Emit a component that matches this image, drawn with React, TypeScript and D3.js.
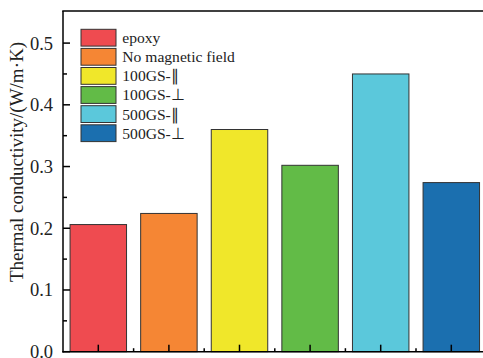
import React from 'react'
import * as d3 from 'd3'

const width = 483
const height = 358

const categories = ['epoxy', 'No magnetic field', '100GS-∥', '100GS-⊥', '500GS-∥', '500GS-⊥']
const values = [0.206, 0.224, 0.36, 0.302, 0.45, 0.274]
const colors = ['#EF4B50', '#F58634', '#F0E72A', '#62BB47', '#5BC8DB', '#1B6FAF']
const yTicks = [0.0, 0.1, 0.2, 0.3, 0.4, 0.5]

const margin = { left: 63, top: 11, bottom: 6.3 }
const plotRight = 486.6
const plotBottom = height - margin.bottom

const font = '"Liberation Serif", "Times New Roman", serif'

export default function App() {
  const x = d3
    .scaleBand<string>()
    .domain(categories)
    .range([margin.left, plotRight])
    .paddingInner(0.2)
    .paddingOuter(0.1)
  const y = d3.scaleLinear().domain([0, 0.552]).range([plotBottom, margin.top])

  const minorY = d3.range(0.05, 0.55, 0.1)
  const boundaries = categories.slice(1).map((c) => (x(c) as number) - (x.step() * x.paddingInner()) / 2)

  const legendX = 81
  const legendY = 29.3
  const legendStep = 19.1

  return (
    <svg width={width} height={height} style={{ position: 'absolute', left: 0, top: 0, background: '#fff' }}>
      {categories.map((c, i) => (
        <rect
          key={c}
          x={x(c)}
          y={y(values[i])}
          width={x.bandwidth()}
          height={plotBottom - y(values[i])}
          fill={colors[i]}
          stroke="#333"
          strokeWidth={1}
        />
      ))}

      {/* y ticks */}
      {yTicks.map((t) => (
        <g key={t}>
          <line x1={margin.left} x2={margin.left + 7} y1={y(t)} y2={y(t)} stroke="#000" strokeWidth={1.5} />
          <text
            x={53}
            y={y(t)}
            dy="0.35em"
            textAnchor="end"
            fontFamily={font}
            fontSize={18.5}
            fill="#222"
          >
            {t.toFixed(1)}
          </text>
        </g>
      ))}
      {minorY.map((t) => (
        <line key={t} x1={margin.left} x2={margin.left + 4} y1={y(t)} y2={y(t)} stroke="#000" strokeWidth={1.5} />
      ))}

      {/* x ticks */}
      {categories.map((c) => {
        const cx = (x(c) as number) + x.bandwidth() / 2
        return <line key={c} x1={cx} x2={cx} y1={plotBottom} y2={plotBottom - 7} stroke="#000" strokeWidth={1.5} />
      })}
      {boundaries.map((b, i) => (
        <line key={i} x1={b} x2={b} y1={plotBottom} y2={plotBottom - 3.5} stroke="#000" strokeWidth={1.5} />
      ))}

      {/* frame */}
      <line x1={margin.left} x2={margin.left} y1={margin.top} y2={plotBottom + 0.75} stroke="#000" strokeWidth={1.5} />
      <line x1={margin.left - 0.75} x2={width} y1={plotBottom} y2={plotBottom} stroke="#000" strokeWidth={1.5} />
      <line x1={margin.left - 0.75} x2={width} y1={margin.top} y2={margin.top} stroke="#000" strokeWidth={1.5} />

      {/* legend */}
      {categories.map((c, i) => (
        <g key={c} transform={`translate(${legendX},${legendY + i * legendStep})`}>
          <rect width={35} height={16.8} fill={colors[i]} stroke="#333" strokeWidth={1} />
          <text x={41.3} y={8.4} dy="0.35em" fontFamily={font} fontSize={15.6} fill="#222">
            {c}
          </text>
        </g>
      ))}

      <text
        transform={`translate(16,${162}) rotate(-90)`}
        textAnchor="middle"
        dy="0.35em"
        fontFamily={font}
        fontSize={19}
        fill="#222"
      >
        Thermal conductivity/(W/m·K)
      </text>
    </svg>
  )
}
